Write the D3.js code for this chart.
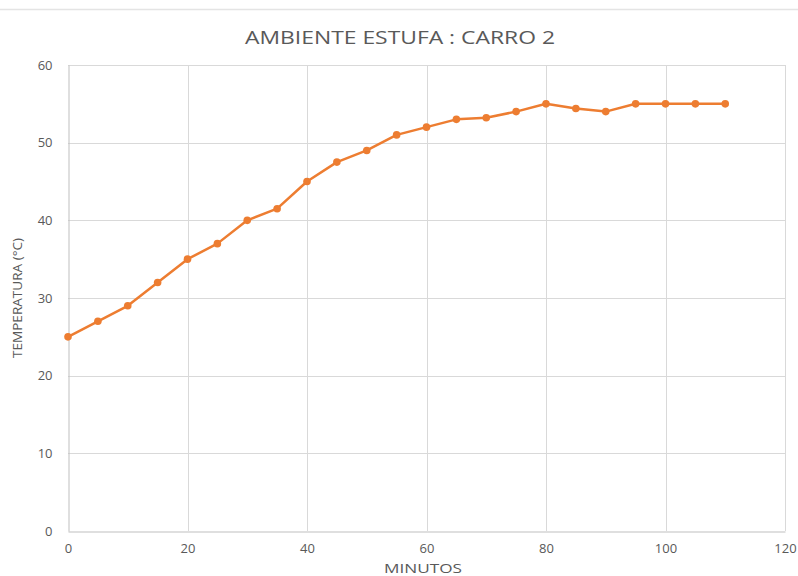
<!DOCTYPE html>
<html>
<head>
<meta charset="utf-8">
<script src="https://cdn.jsdelivr.net/npm/d3@7"></script>
<style>
  html, body { margin: 0; padding: 0; background: #fff; }
  svg { display: block; font-family: "Open Sans", "Liberation Sans", sans-serif; }
</style>
</head>
<body>
<script>
// Temperature readings of the oven atmosphere, cart 2
const minutes = [0, 5, 10, 15, 20, 25, 30, 35, 40, 45, 50, 55, 60, 65, 70, 75, 80, 85, 90, 95, 100, 105, 110];
const temperature = [25, 27, 29, 32, 35, 37, 40, 41.5, 45, 47.5, 49, 51, 52, 53, 53.2, 54, 55, 54.4, 54, 55, 55, 55, 55];
const xTicks = [0, 20, 40, 60, 80, 100, 120];
const yTicks = [0, 10, 20, 30, 40, 50, 60];
const title = "AMBIENTE ESTUFA : CARRO 2";
const xTitle = "MINUTOS";
const yTitle = "TEMPERATURA (°C)";

const W = 798, H = 576;
const plotLeft = 68, plotRight = 785, plotTop = 65, plotBottom = 531;

const svg = d3.select("body").append("svg").attr("width", W).attr("height", H);

// faint sheet border along the top edge
svg.append("line").attr("x1", 0).attr("x2", W).attr("y1", 9.5).attr("y2", 9.5)
  .attr("stroke", "#e4e4e4").attr("stroke-width", 1.5);

const x = d3.scaleLinear().domain([0, 120]).range([plotLeft, plotRight]);
const y = d3.scaleLinear().domain([0, 60]).range([plotBottom, plotTop]);

// gridlines
svg.append("g").selectAll("line").data(yTicks.filter(d => d > 0)).join("line")
  .attr("x1", plotLeft).attr("x2", plotRight)
  .attr("y1", d => Math.round(y(d)) + 0.5).attr("y2", d => Math.round(y(d)) + 0.5)
  .attr("stroke", "#d9d9d9").attr("stroke-width", 1);
svg.append("g").selectAll("line").data(xTicks.filter(d => d > 0)).join("line")
  .attr("x1", d => Math.round(x(d)) + 0.5).attr("x2", d => Math.round(x(d)) + 0.5)
  .attr("y1", plotTop).attr("y2", plotBottom)
  .attr("stroke", "#d9d9d9").attr("stroke-width", 1);

// axes
const xAxis = svg.append("g").attr("transform", `translate(0,${Math.round(plotBottom) + 0.5})`)
  .call(d3.axisBottom(x).tickValues(xTicks).tickSize(0).tickPadding(12));
const yAxis = svg.append("g").attr("transform", `translate(${plotLeft + 0.5},0)`)
  .call(d3.axisLeft(y).tickValues(yTicks).tickSize(0).tickPadding(16));
[xAxis, yAxis].forEach(g => {
  g.select(".domain").attr("stroke", "#bfbfbf").attr("stroke-width", 1);
  g.selectAll("text").attr("fill", "#595959").attr("font-size", 13)
    .attr("font-family", "\"Open Sans\", sans-serif");
});

// title
svg.append("text").attr("x", 400).attr("y", 44).attr("text-anchor", "middle")
  .attr("font-size", 19).attr("fill", "#595959")
  .attr("textLength", 310).attr("lengthAdjust", "spacingAndGlyphs")
  .text(title);

// axis titles
svg.append("text").attr("x", 423).attr("y", 573).attr("text-anchor", "middle")
  .attr("font-size", 13.5).attr("fill", "#595959")
  .attr("textLength", 78).attr("lengthAdjust", "spacingAndGlyphs")
  .text(xTitle);
svg.append("text").attr("transform", "translate(22,298) rotate(-90)")
  .attr("text-anchor", "middle").attr("font-size", 12).attr("fill", "#595959")
  .attr("textLength", 120).attr("lengthAdjust", "spacingAndGlyphs")
  .text(yTitle);

// series
const pts = minutes.map((m, i) => [m, temperature[i]]);
svg.append("path").datum(pts)
  .attr("fill", "none").attr("stroke", "#ED7D31").attr("stroke-width", 2.5)
  .attr("stroke-linejoin", "round")
  .attr("d", d3.line().x(d => x(d[0])).y(d => y(d[1])));
svg.append("g").selectAll("circle").data(pts).join("circle")
  .attr("cx", d => x(d[0])).attr("cy", d => y(d[1])).attr("r", 3.8)
  .attr("fill", "#ED7D31");
</script>
</body>
</html>
